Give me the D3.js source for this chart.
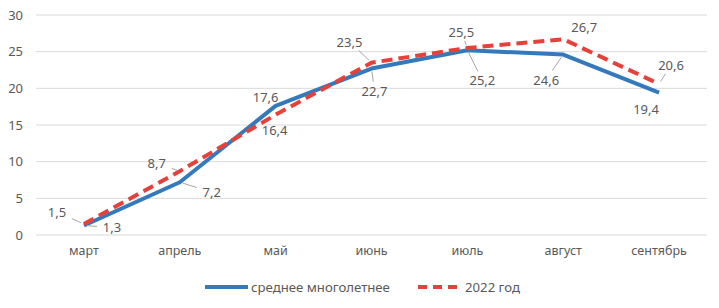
<!DOCTYPE html>
<html>
<head>
<meta charset="utf-8">
<script src="https://cdn.jsdelivr.net/npm/d3@7"></script>
<style>
  body { margin: 0; background: #fff; }
  svg text { font-family: "Noto Sans", "Open Sans", sans-serif; fill: #595959; }
</style>
</head>
<body>
<svg id="chart" width="719" height="308"></svg>
<script>
const months = ['март', 'апрель', 'май', 'июнь', 'июль', 'август', 'сентябрь'];
const avgValues = [1.3, 7.2, 17.6, 22.7, 25.2, 24.6, 19.4];
const y2022Values = [1.5, 8.7, 16.4, 23.5, 25.5, 26.7, 20.6];
const yTicks = [0, 5, 10, 15, 20, 25, 30];
const seriesNames = ['среднее многолетнее', '2022 год'];

// label placement: [dx, dy] of label centre from the point, and whether to draw a leader
const avgLabelPos = [[28, 2, 1], [32, 10, 1], [-10, -9, 0], [3, 22, 1], [15, 30, 1], [-17, 25, 1], [-13, 16, 0]];
const y22LabelPos = [[-27, -12, 1], [-23, -8, 1], [-1, 15, 0], [-22, -21, 1], [-6, -16, 1], [21, -12, 0], [12, -19, 1]];

const svg = d3.select('#chart');
const margin = {top: 15, right: 12, bottom: 73, left: 36};
const width = 719 - margin.left - margin.right;
const height = 308 - margin.top - margin.bottom;
const g = svg.append('g').attr('transform', 'translate(' + margin.left + ',' + margin.top + ')');

const x = d3.scaleBand().domain(months).range([0, width]);
const y = d3.scaleLinear().domain([0, 30]).range([height, 0]);
const cx = d => x(d) + x.bandwidth() / 2;

// gridlines
g.selectAll('.grid')
  .data(yTicks)
  .enter().append('line')
  .attr('x1', 0).attr('x2', width)
  .attr('y1', d => y(d)).attr('y2', d => y(d))
  .attr('stroke', '#d9d9d9').attr('stroke-width', 1);

// y axis labels
const yAxis = g.append('g')
  .call(d3.axisLeft(y).tickValues(yTicks).tickSize(0).tickPadding(13));
yAxis.select('.domain').remove();
yAxis.selectAll('text').style('font-size', '13px').attr('fill', '#595959');

// x axis labels
const xAxis = g.append('g')
  .attr('transform', 'translate(0,' + height + ')')
  .call(d3.axisBottom(x).tickSize(0).tickPadding(11));
xAxis.select('.domain').remove();
xAxis.selectAll('text').style('font-size', '12.5px').attr('fill', '#595959');

const line = d3.line().x((d, i) => cx(months[i])).y(d => y(d));

g.append('path')
  .datum(avgValues)
  .attr('d', line)
  .attr('fill', 'none')
  .attr('stroke', '#3579bd')
  .attr('stroke-width', 4)
  .attr('stroke-linejoin', 'round');

g.append('path')
  .datum(y2022Values)
  .attr('d', line)
  .attr('fill', 'none')
  .attr('stroke', '#e5413a')
  .attr('stroke-width', 4)
  .attr('stroke-dasharray', '11,6');

function addLabels(values, pos) {
  values.forEach((v, i) => {
    const px = cx(months[i]), py = y(v);
    const dx = pos[i][0], dy = pos[i][1];
    const lx = px + dx, ly = py + dy;
    if (pos[i][2]) {
      // leader stops at the edge of the label box
      const len = Math.hypot(dx, dy);
      const ux = dx / len, uy = dy / len;
      const r = Math.min(14 / Math.max(Math.abs(ux), 1e-6), 8 / Math.max(Math.abs(uy), 1e-6)) + 1;
      if (len - r > 3) {
        g.append('line')
          .attr('x1', px + ux * 3).attr('y1', py + uy * 3)
          .attr('x2', lx - ux * r).attr('y2', ly - uy * r)
          .attr('stroke', '#a6a6a6')
          .attr('stroke-width', 1);
      }
    }
    g.append('text')
      .attr('x', lx).attr('y', ly)
      .attr('text-anchor', 'middle')
      .attr('dominant-baseline', 'central')
      .style('font-size', '13px')
      .text(d3.format('.1f')(v).replace('.', ','));
  });
}
addLabels(avgValues, avgLabelPos);
addLabels(y2022Values, y22LabelPos);

// legend
const legend = svg.append('g').attr('transform', 'translate(0,287)');
legend.append('line')
  .attr('x1', 205).attr('x2', 248).attr('y1', 0).attr('y2', 0)
  .attr('stroke', '#3579bd').attr('stroke-width', 4);
legend.append('text')
  .attr('x', 251).attr('y', 0).attr('dominant-baseline', 'central')
  .style('font-size', '13.2px').text(seriesNames[0]);
legend.append('line')
  .attr('x1', 418).attr('x2', 457).attr('y1', 0).attr('y2', 0)
  .attr('stroke', '#e5413a').attr('stroke-width', 4)
  .attr('stroke-dasharray', '9,6');
legend.append('text')
  .attr('x', 465).attr('y', 0).attr('dominant-baseline', 'central')
  .style('font-size', '13.2px').text(seriesNames[1]);
</script>
</body>
</html>
